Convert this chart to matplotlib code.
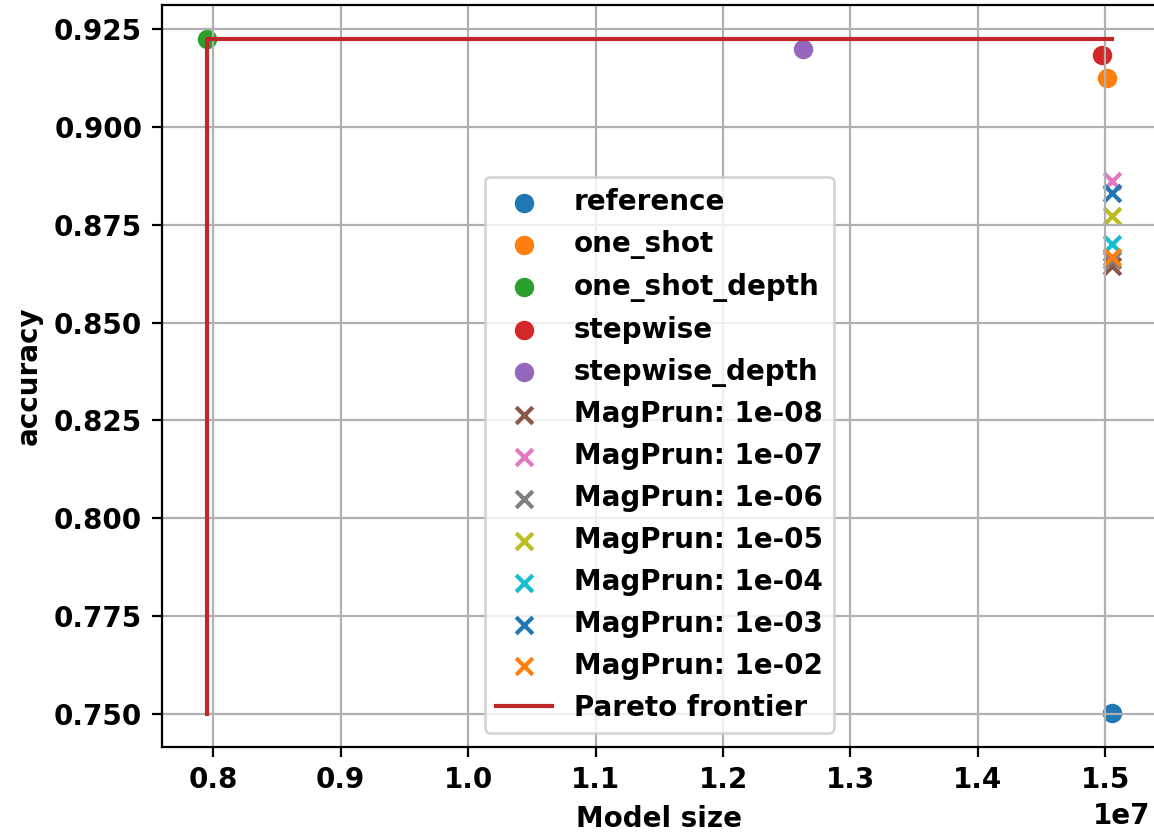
import matplotlib
matplotlib.use("Agg")
import matplotlib.pyplot as plt

plt.rcParams['font.weight'] = 'bold'
plt.rcParams['axes.labelweight'] = 'bold'

# resultados de cada metodo: (tamaño del modelo, accuracy)
metodos = ['reference', 'one_shot', 'one_shot_depth', 'stepwise', 'stepwise_depth']
size_metodos = [1.5052e7, 1.5013e7, 0.7948e7, 1.4977e7, 1.2628e7]
acc_metodos = [0.7502, 0.9125, 0.9225, 0.9184, 0.9200]

# magnitude pruning con distintos umbrales
umbrales = ['1e-08', '1e-07', '1e-06', '1e-05', '1e-04', '1e-03', '1e-02']
size_magprun = [1.5052e7, 1.5052e7, 1.5052e7, 1.5052e7, 1.5052e7, 1.5052e7, 1.5052e7]
acc_magprun = [0.8645, 0.8862, 0.8660, 0.8773, 0.8700, 0.8832, 0.8668]

# frontera de pareto
pareto_x = [0.7953e7, 0.7953e7, 1.5052e7]
pareto_y = [0.7500, 0.9225, 0.9225]

fig = plt.figure(figsize=(5.77, 4.17), dpi=200)
ax = fig.add_axes([0.1401, 0.1047, 0.8625, 0.889])

for i, nombre in enumerate(metodos):
    ax.scatter(size_metodos[i], acc_metodos[i], color=f'C{i}', label=nombre)

for j, u in enumerate(umbrales):
    ax.scatter(size_magprun[j], acc_magprun[j], marker='x',
               color=f'C{(5 + j) % 10}', label=f'MagPrun: {u}')

ax.plot(pareto_x, pareto_y, color='#c0272b', label='Pareto frontier')

ax.set_xlim(0.7596e7, 1.5405e7)
ax.set_ylim(0.7416, 0.9311)
ax.set_xlabel('Model size')
ax.set_ylabel('accuracy')
ax.grid(True)
ax.legend(loc='lower center')

# el eje derecho queda fuera de la imagen, acercamos el "1e7"
ax.xaxis.get_offset_text().set_x(0.993)

fig.savefig('out.png', dpi=200)
